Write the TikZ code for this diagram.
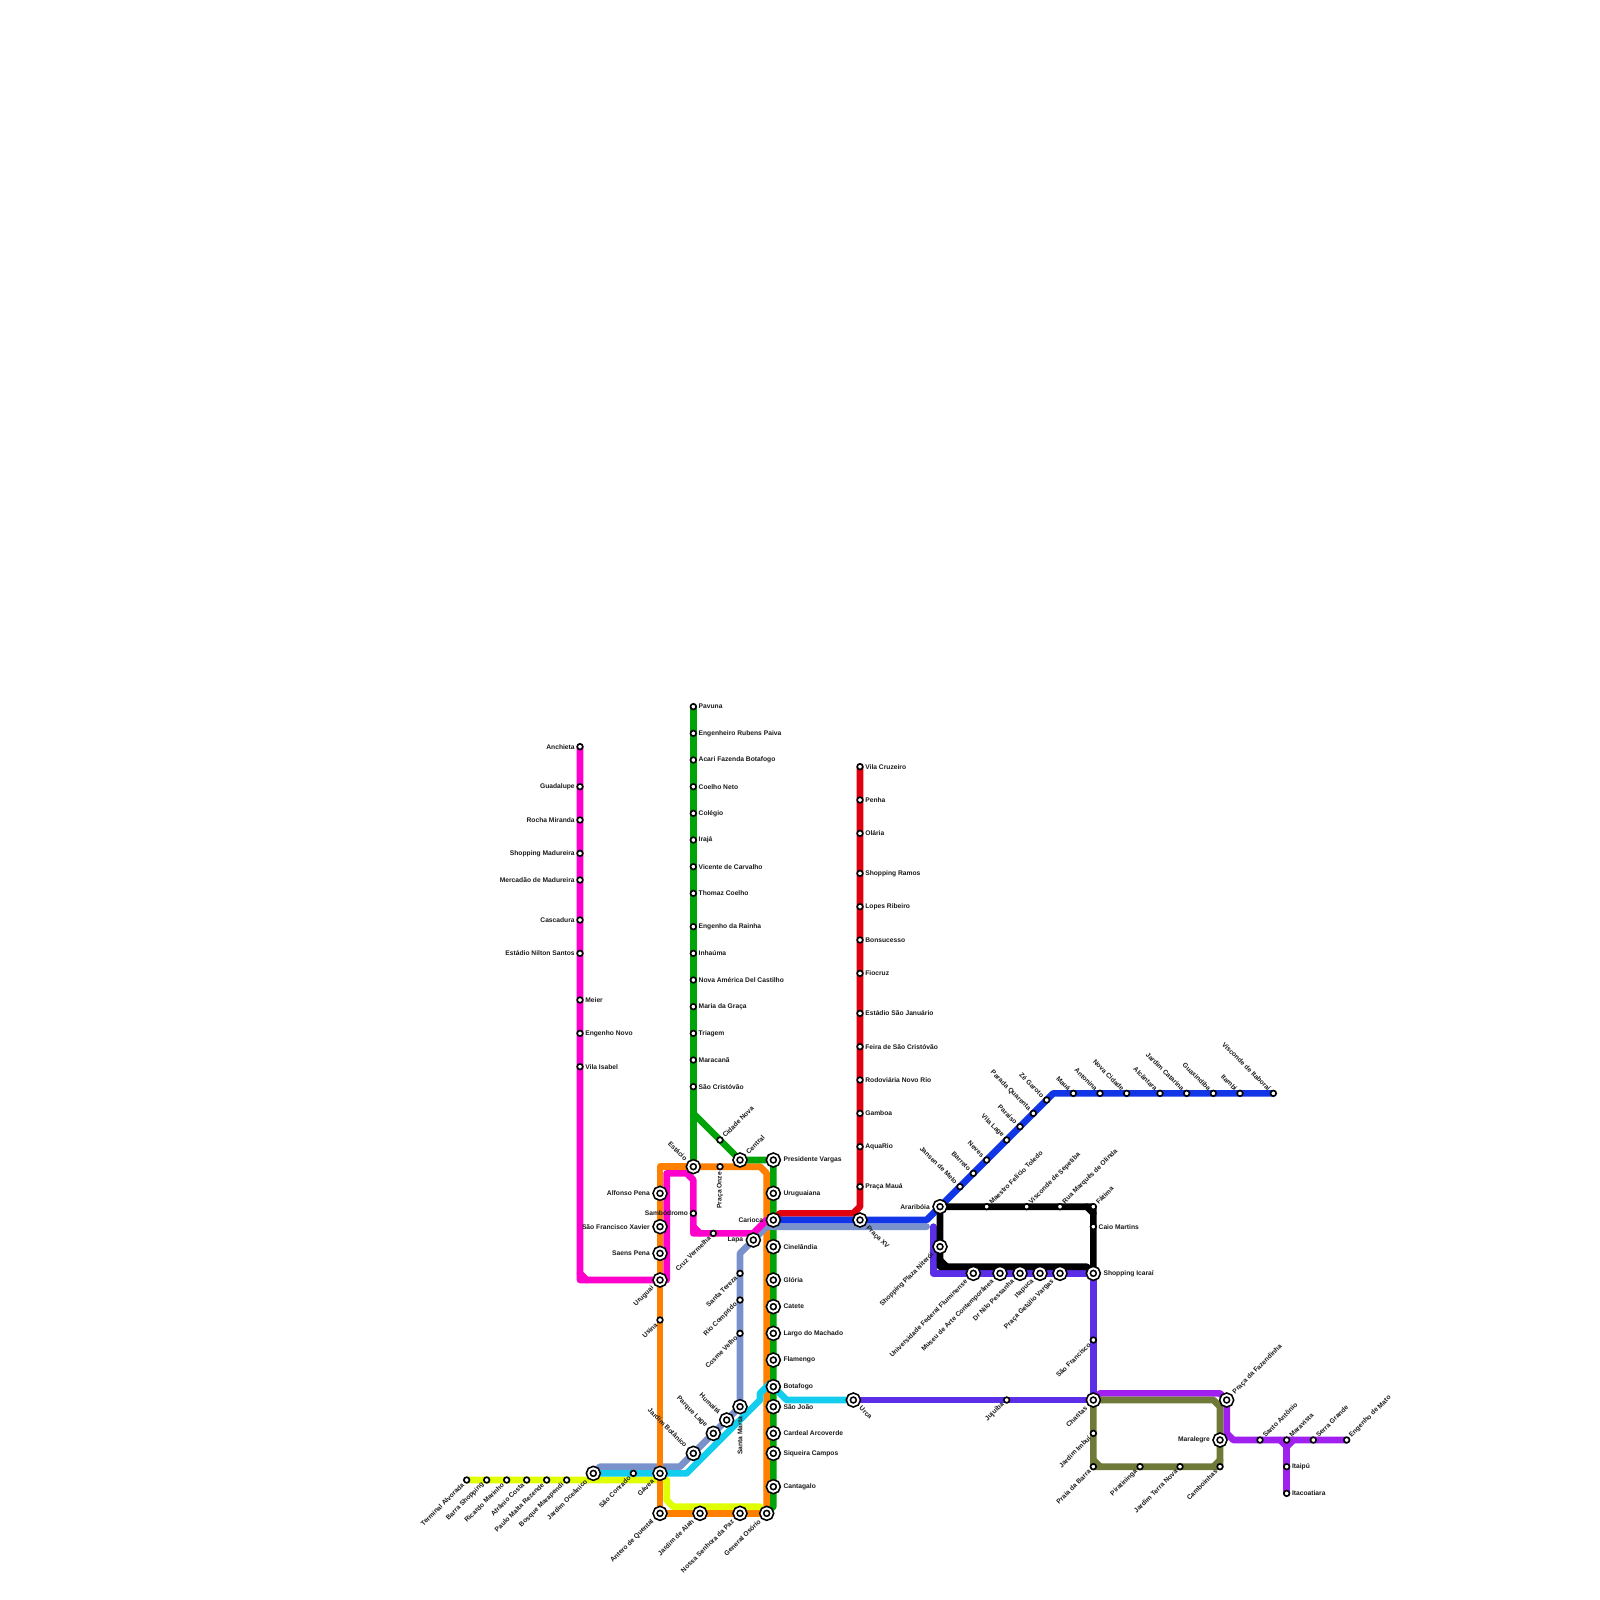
\documentclass[tikz,border=0pt]{standalone}
\usepackage{xcolor}
\usepackage{fontspec}
\setmainfont{Liberation Sans}
\usetikzlibrary{backgrounds}
\definecolor{linhamagenta}{RGB}{255,0,204}
\definecolor{linhaorange}{RGB}{255,128,0}
\definecolor{linhagreen}{RGB}{0,163,8}
\definecolor{linhared}{RGB}{224,0,15}
\definecolor{linhablue}{RGB}{18,53,232}
\definecolor{linhaperi}{RGB}{122,146,204}
\definecolor{linhacyan}{RGB}{19,205,238}
\definecolor{linhalime}{RGB}{224,255,0}
\definecolor{linhaviolet}{RGB}{91,46,232}
\definecolor{linhapurple}{RGB}{160,32,240}
\definecolor{linhaolive}{RGB}{112,122,56}

\begin{document}
\begin{tikzpicture}[
  x=3.33333pt, y=-3.33333pt,
  stn/.style={circle, draw=black, fill=white, line width=.83pt, inner sep=0pt, outer sep=1.25pt,
              minimum size=2.83pt},
  hub/.style={circle, draw=black, fill=white, double=white, double distance=1pt, line width=.83pt,
              inner sep=0pt, outer sep=2.6pt, minimum size=5pt},
  lbl/.style={font=\fontsize{3.35}{4}\selectfont\bfseries, inner sep=0pt, outer sep=0pt, text=black!90},
  tE/.style={label={[lbl]0:#1}},
  tW/.style={label={[lbl]180:#1}},
  tS/.style={label={[lbl,anchor=east,rotate=90]-90:#1}},
  tNE/.style={label={[lbl,anchor=west,rotate=45]45:#1}},
  tNW/.style={label={[lbl,anchor=east,rotate=-45]135:#1}},
  tSW/.style={label={[lbl,anchor=east,rotate=45]225:#1}},
  tSE/.style={label={[lbl,anchor=west,rotate=-45]-45:#1}},
  ln/.style={line width=3.33333pt, line cap=round, line join=round},
]
  \useasboundingbox (0,0) rectangle (240,240);

  % Pavuna line
  \node[stn,tE=Pavuna] (pavuna) at (104,106) {};
  \node[stn,tE=Engenheiro Rubens Paiva] (rubens) at (104,110) {};
  \node[stn,tE=Acari Fazenda Botafogo] (acari) at (104,114) {};
  \node[stn,tE=Coelho Neto] (coelho) at (104,118) {};
  \node[stn,tE=Colégio] (colegio) at (104,122) {};
  \node[stn,tE=Irajá] (iraja) at (104,126) {};
  \node[stn,tE=Vicente de Carvalho] (vicente) at (104,130) {};
  \node[stn,tE=Thomaz Coelho] (thomaz) at (104,134) {};
  \node[stn,tE=Engenho da Rainha] (rainha) at (104,139) {};
  \node[stn,tE=Inhaúma] (inhauma) at (104,143) {};
  \node[stn,tE=Nova América Del Castilho] (castilho) at (104,147) {};
  \node[stn,tE=Maria da Graça] (graca) at (104,151) {};
  \node[stn,tE=Triagem] (triagem) at (104,155) {};
  \node[stn,tE=Maracanã] (maracana) at (104,159) {};
  \node[stn,tE=São Cristóvão] (cristovao) at (104,163) {};
  \node[stn,tNE=Cidade Nova] (cidadenova) at (108,171) {};
  \node[hub,tNE=Central] (central) at (111,174) {};
  \node[hub,tNW=Estácio] (estacio) at (104,175) {};
  \node[stn,tS=Praça Onze] (onze) at (108,175) {};

  % Trunk through the centre
  \node[hub,tE=Presidente Vargas] (vargas) at (116,174) {};
  \node[hub,tE=Uruguaiana] (uruguaiana) at (116,179) {};
  \node[hub,tW=Carioca] (carioca) at (116,183) {};
  \node[hub,tE=Cinelândia] (cinelandia) at (116,187) {};
  \node[hub,tE=Glória] (gloria) at (116,192) {};
  \node[hub,tE=Catete] (catete) at (116,196) {};
  \node[hub,tE=Largo do Machado] (machado) at (116,200) {};
  \node[hub,tE=Flamengo] (flamengo) at (116,204) {};
  \node[hub,tE=Botafogo] (botafogo) at (116,208) {};
  \node[hub,tE=São João] (saojoao) at (116,211) {};
  \node[hub,tE=Cardeal Arcoverde] (cardeal) at (116,215) {};
  \node[hub,tE=Siqueira Campos] (siqueira) at (116,218) {};
  \node[hub,tE=Cantagalo] (cantagalo) at (116,223) {};

  % Anchieta line
  \node[stn,tW=Anchieta] (anchieta) at (87,112) {};
  \node[stn,tW=Guadalupe] (guadalupe) at (87,118) {};
  \node[stn,tW=Rocha Miranda] (rocha) at (87,123) {};
  \node[stn,tW=Shopping Madureira] (shopmad) at (87,128) {};
  \node[stn,tW=Mercadão de Madureira] (mercadao) at (87,132) {};
  \node[stn,tW=Cascadura] (cascadura) at (87,138) {};
  \node[stn,tW=Estádio Nilton Santos] (nilton) at (87,143) {};
  \node[stn,tE=Meier] (meier) at (87,150) {};
  \node[stn,tE=Engenho Novo] (engnovo) at (87,155) {};
  \node[stn,tE=Vila Isabel] (isabel) at (87,160) {};
  \node[stn,tW=Sambódromo] (sambodromo) at (104,182) {};
  \node[stn,tSW=Cruz Vermelha] (cruz) at (107,185) {};

  % Left side and bottom
  \node[hub,tW=Alfonso Pena] (alfonso) at (99,179) {};
  \node[hub,tW=São Francisco Xavier] (xavier) at (99,184) {};
  \node[hub,tW=Saens Pena] (saens) at (99,188) {};
  \node[hub,tSW=Uruguai] (uruguai) at (99,192) {};
  \node[stn,tSW=Usina] (usina) at (99,198) {};
  \node[hub,tSW=Gávea] (gavea) at (99,221) {};
  \node[hub,tSW=Antero de Quental] (antero) at (99,227) {};
  \node[hub,tSW=Jardim de Alah] (alah) at (105,227) {};
  \node[hub,tSW=Nossa Senhora da Paz] (senhora) at (111,227) {};
  \node[hub,tSW=General Osório] (osorio) at (115,227) {};

  % Barra
  \node[stn,tSW=Terminal Alvorada] (alvorada) at (70,222) {};
  \node[stn,tSW=Barra Shopping] (barra) at (73,222) {};
  \node[stn,tSW=Ricardo Marinho] (ricardo) at (76,222) {};
  \node[stn,tSW=Afrânio Costa] (afranio) at (79,222) {};
  \node[stn,tSW=Paulo Malta Rezende] (malta) at (82,222) {};
  \node[stn,tSW=Bosque Marapendi] (bosque) at (85,222) {};
  \node[hub,tSW=Jardim Oceânico] (oceanico) at (89,221) {};
  \node[stn,tSW=São Conrado] (conrado) at (95,221) {};

  % Santa Teresa branch
  \node[hub,tW=Lapa] (lapa) at (113,186) {};
  \node[stn,tSW=Santa Tereza] (tereza) at (111,191) {};
  \node[stn,tSW=Rio Comprido] (comprido) at (111,195) {};
  \node[stn,tSW=Cosme Velho] (cosme) at (111,200) {};
  \node[hub,tS=Santa Marta] (marta) at (111,211) {};
  \node[hub,tNW=Humaitá] (humaita) at (109,213) {};
  \node[hub,tNW=Parque Lage] (lage) at (107,215) {};
  \node[hub,tNW=Jardim Botânico] (botanico) at (104,218) {};

  % Vila Cruzeiro line
  \node[stn,tE=Vila Cruzeiro] (cruzeiro) at (129,115) {};
  \node[stn,tE=Penha] (penha) at (129,120) {};
  \node[stn,tE=Olária] (olaria) at (129,125) {};
  \node[stn,tE=Shopping Ramos] (ramos) at (129,131) {};
  \node[stn,tE=Lopes Ribeiro] (lopes) at (129,136) {};
  \node[stn,tE=Bonsucesso] (bonsucesso) at (129,141) {};
  \node[stn,tE=Fiocruz] (fiocruz) at (129,146) {};
  \node[stn,tE=Estádio São Januário] (januario) at (129,152) {};
  \node[stn,tE=Feira de São Cristóvão] (feira) at (129,157) {};
  \node[stn,tE=Rodoviária Novo Rio] (rodoviaria) at (129,162) {};
  \node[stn,tE=Gamboa] (gamboa) at (129,167) {};
  \node[stn,tE=AquaRio] (aquario) at (129,172) {};
  \node[stn,tE=Praça Mauá] (pmaua) at (129,178) {};
  \node[hub,tSE=Praça XV] (pracaxv) at (129,183) {};
  \node[hub,tSE=Urca] (urca) at (128,210) {};
  \node[stn,tSW=Jujuíba] (jujuiba) at (151,210) {};

  % Niteroi
  \node[hub,tW=Araribóia] (arariboia) at (141,181) {};
  \node[hub,tSW=Shopping Plaza Niterói] (plaza) at (141,187) {};
  \node[stn,tNW=Jansen de Melo] (jansen) at (144,178) {};
  \node[stn,tNW=Barreto] (barreto) at (146,176) {};
  \node[stn,tNW=Neves] (neves) at (148,174) {};
  \node[stn,tNW=Vila Lage] (vilalage) at (151,171) {};
  \node[stn,tNW=Paraíso] (paraiso) at (153,169) {};
  \node[stn,tNW=Parada Quarenta] (quarenta) at (155,167) {};
  \node[stn,tNW=Zé Garoto] (garoto) at (157,165) {};
  \node[stn,tNW=Mauá] (maua) at (161,164) {};
  \node[stn,tNW=Antonina] (antonina) at (165,164) {};
  \node[stn,tNW=Nova Cidade] (novacidade) at (169,164) {};
  \node[stn,tNW=Alcântara] (alcantara) at (174,164) {};
  \node[stn,tNW=Jardim Catarina] (catarina) at (178,164) {};
  \node[stn,tNW=Guaxindiba] (guaxindiba) at (182,164) {};
  \node[stn,tNW=Itambi] (itambi) at (186,164) {};
  \node[stn,tNW=Visconde de Itaboraí] (itaborai) at (191,164) {};
  \node[stn,tNE=Maestro Felício Toledo] (toledo) at (148,181) {};
  \node[stn,tNE=Visconde de Sepetiba] (sepetiba) at (154,181) {};
  \node[stn,tNE=Rua Marquês de Olinda] (olinda) at (159,181) {};
  \node[stn,tNE=Fátima] (fatima) at (164,181) {};
  \node[stn,tE=Caio Martins] (caio) at (164,184) {};
  \node[hub,tE=Shopping Icaraí] (icarai) at (164,191) {};
  \node[hub,tSW=Universidade Federal Fluminense] (uff) at (146,191) {};
  \node[hub,tSW=Museu de Arte Contemporânea] (museu) at (150,191) {};
  \node[hub,tSW=Dr Nilo Pessanha] (nilo) at (153,191) {};
  \node[hub,tSW=Itapuca] (itapuca) at (156,191) {};
  \node[hub,tSW=Praça Getúlio Vargas] (getulio) at (159,191) {};
  \node[stn,tSW=São Francisco] (saofrancisco) at (164,201) {};

  % Oceanic region
  \node[hub,tSW=Charitas] (charitas) at (164,210) {};
  \node[stn,tSW=Jardim Imbuí] (imbui) at (164,215) {};
  \node[stn,tSW=Praia da Barra] (praia) at (164,220) {};
  \node[stn,tSW=Piratininga] (piratininga) at (171,220) {};
  \node[stn,tSW=Jardim Terra Nova] (terranova) at (177,220) {};
  \node[stn,tSW=Camboinhas] (camboinhas) at (183,220) {};
  \node[hub,tW=Maralegre] (maralegre) at (183,216) {};
  \node[hub,tNE=Praça da Fazendinha] (fazendinha) at (184,210) {};
  \node[stn,tNE=Santo Antônio] (santoantonio) at (189,216) {};
  \node[stn,tNE=Maravista] (maravista) at (193,216) {};
  \node[stn,tNE=Serra Grande] (serra) at (197,216) {};
  \node[stn,tNE=Engenho de Mato] (mato) at (202,216) {};
  \node[stn,tE=Itaipú] (itaipu) at (193,220) {};
  \node[stn,tE=Itacoatiara] (itacoatiara) at (193,224) {};

  % Bends
  \coordinate (grA) at (104,167);
  \coordinate (grB) at (116,226);
  \coordinate (orA) at (99,175);
  \coordinate (orB) at (114,175);
  \coordinate (orC) at (115,176);
  \coordinate (mgA) at (87,192);
  \coordinate (mgB) at (100,192);
  \coordinate (mgC) at (100,176);
  \coordinate (mgD) at (103,176);
  \coordinate (mgE) at (104,177);
  \coordinate (mgF) at (104,185);
  \coordinate (mgG) at (113,185);
  \coordinate (mgH) at (115,183);
  \coordinate (pwA) at (90,220);
  \coordinate (pwB) at (102,220);
  \coordinate (pwC) at (111,188);
  \coordinate (pwD) at (115,184);
  \coordinate (pwE) at (139,184);
  \coordinate (cyA) at (103,221);
  \coordinate (cyB) at (114,210);
  \coordinate (cyC) at (114,209);
  \coordinate (cyD) at (115.5,207.5);
  \coordinate (cyE) at (118,210);
  \coordinate (liA) at (100,222);
  \coordinate (liB) at (100,225);
  \coordinate (liC) at (101,226);
  \coordinate (liD) at (114,226);
  \coordinate (rdA) at (117,182);
  \coordinate (rdB) at (128,182);
  \coordinate (rdC) at (129,181);
  \coordinate (blA) at (139,183);
  \coordinate (blB) at (158,164);
  \coordinate (viA) at (140,191);
  \coordinate (viB) at (140,184);
  \coordinate (bkA) at (163,190);
  \coordinate (bkB) at (141,190);
  \coordinate (puA) at (165,209);
  \coordinate (puB) at (183,209);
  \coordinate (puC) at (184,215);
  \coordinate (puD) at (185,216);
  \coordinate (olA) at (182,210);
  \coordinate (olB) at (183,211);

  \begin{scope}[on background layer]
    % right leg of the orange runs under everything else
    \draw[ln,linhaorange] (estacio.center) -- (orB) -- (orC) -- (osorio.center);
    \draw[ln,linhagreen] (pavuna.center) -- (estacio.center);
    \draw[ln,linhagreen] (grA) -- (central.center) -- (vargas.center) -- (grB) -- (osorio.center);
    \draw[ln,linhared] (cruzeiro.center) -- (rdC) -- (rdB) -- (rdA) -- (carioca.center);
    \draw[ln,linhaperi] (oceanico.center) -- (pwA) -- (pwB) -- (marta.center) -- (pwC) -- (pwD) -- (pwE);
    \draw[ln,linhamagenta] (anchieta.center) -- (mgA) -- (mgB) -- (mgC) -- (mgD) -- (mgE) -- (mgF) -- (mgG) -- (mgH) -- (carioca.center);
    \draw[ln,linhamagenta] (mgA) +(0,-1) -- +(1,0);
    \draw[ln,linhamagenta] (mgF) +(0,-1) -- +(1,0);
    \draw[ln,linhalime] (alvorada.center) -- (liA) -- (liB) -- (liC) -- (liD);
    \draw[ln,linhacyan] (oceanico.center) -- (cyA) -- (cyB) -- (cyC) -- (cyD) -- (botafogo.center) -- (cyE) -- (urca.center);
    \draw[ln,linhaorange] (estacio.center) -- (orA) -- (antero.center) -- (osorio.center);
    \draw[ln,linhaviolet] (urca.center) -- (charitas.center) -- (icarai.center) -- (viA) -- (viB);
    \draw[ln,linhablue] (carioca.center) -- (blA) -- (arariboia.center) -- (blB) -- (itaborai.center);
    \draw[ln,black] (arariboia.center) -- (fatima.center) -- (icarai.center) -- (bkA) -- (bkB) -- (arariboia.center);
    \draw[ln,black] (fatima.center) +(-1,0) -- +(0,1);
    \draw[ln,black] (bkB) +(0,-1) -- +(1,0);
    \draw[ln,linhapurple] (charitas.center) -- (puA) -- (puB) -- (fazendinha.center) -- (puC) -- (puD) -- (mato.center);
    \draw[ln,linhapurple] (maravista.center) -- (itacoatiara.center);
    \draw[ln,linhapurple] (maravista.center) +(-1,0) -- +(0,1) -- +(1,0);
    \draw[ln,linhaolive] (charitas.center) -- (olA) -- (olB) -- (camboinhas.center) -- (praia.center) -- (charitas.center);
    \draw[ln,linhaolive] (camboinhas.center) +(0,-1) -- +(-1,0);
    \draw[ln,linhaolive] (praia.center) +(0,-1) -- +(1,0);
  \end{scope}
\end{tikzpicture}
\end{document}
